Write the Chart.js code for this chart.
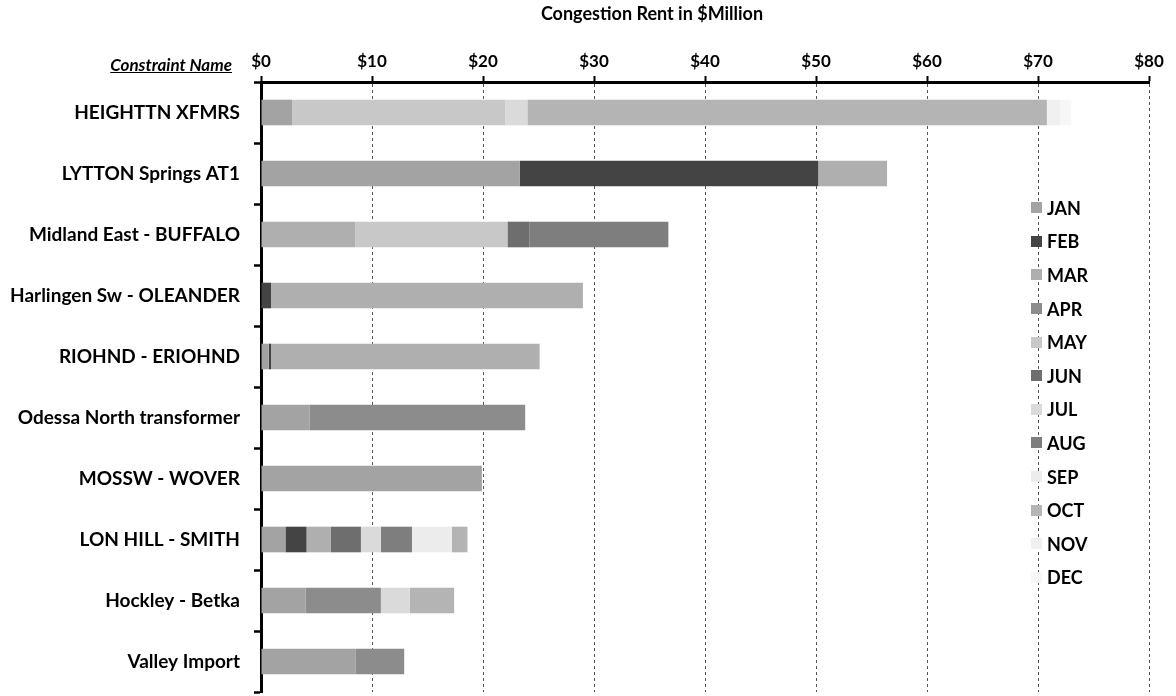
<!DOCTYPE html>
<html>
<head>
<meta charset="utf-8">
<script src="https://cdn.jsdelivr.net/npm/chart.js@4"></script>
<style>
  html, body { margin:0; padding:0; background:#fff; }
  #wrap { position:relative; width:1176px; height:696px; overflow:hidden; }
  #xtitle { position:absolute; left:452px; width:400px; top:2px; text-align:center; font-family:Lato, sans-serif; font-weight:bold; font-size:18px; color:#000; }
  #cname { position:absolute; right:944px; top:54px; font-family:Lato, sans-serif; font-weight:bold; font-style:italic; font-size:17px; text-decoration:underline; color:#000; white-space:nowrap; }
  #legend { position:absolute; left:1031px; top:191px; font-family:Lato, sans-serif; font-weight:bold; font-size:18px; color:#000; }
  .li { height:33.6px; display:flex; align-items:center; }
  .sw { width:11px; height:11px; margin-right:5px; }
</style>
</head>
<body>
<div id="wrap">
  <canvas id="c" width="1176" height="696"></canvas>
  <div id="xtitle">Congestion Rent in $Million</div>
  <div id="cname">Constraint Name</div>
  <div id="legend"></div>
</div>
<script>
const categories = ["HEIGHTTN XFMRS","LYTTON Springs AT1","Midland East - BUFFALO","Harlingen Sw - OLEANDER","RIOHND - ERIOHND","Odessa North transformer","MOSSW - WOVER","LON HILL - SMITH","Hockley - Betka","Valley Import"];
const months = ["JAN","FEB","MAR","APR","MAY","JUN","JUL","AUG","SEP","OCT","NOV","DEC"];
const jan = [2.8, 23.3, 0, 0, 0.7, 4.4, 19.9, 2.2, 4.0, 8.5];
const feb = [0, 26.9, 0, 0.9, 0.2, 0, 0, 1.9, 0, 0];
const mar = [0, 6.2, 8.5, 28.1, 24.2, 0, 0, 2.2, 0, 0];
const apr = [0, 0, 0, 0, 0, 19.4, 0, 0, 6.8, 4.4];
const may = [19.2, 0, 13.7, 0, 0, 0, 0, 0, 0, 0];
const jun = [0, 0, 2.0, 0, 0, 0, 0, 2.7, 0, 0];
const jul = [2.0, 0, 0, 0, 0, 0, 0, 1.8, 2.6, 0];
const aug = [0, 0, 12.5, 0, 0, 0, 0, 2.8, 0, 0];
const sep = [0, 0, 0, 0, 0, 0, 0, 3.6, 0, 0];
const oct = [46.8, 0, 0, 0, 0, 0, 0, 1.4, 4.0, 0];
const nov = [1.2, 0, 0, 0, 0, 0, 0, 0, 0, 0];
const dec = [1.0, 0, 0, 0, 0, 0, 0, 0, 0, 0];
const xTicks = [0,10,20,30,40,50,60,70,80];

const series = [jan,feb,mar,apr,may,jun,jul,aug,sep,oct,nov,dec];
const colors = ["#a3a3a3","#444444","#afafaf","#8c8c8c","#c8c8c8","#6e6e6e","#dadada","#7e7e7e","#ececec","#b4b4b4","#f0f0f0","#f7f7f7"];

Chart.defaults.font.family = "Lato, sans-serif";
Chart.defaults.color = "#000";

new Chart(document.getElementById('c'), {
  type: 'bar',
  data: {
    labels: categories,
    datasets: months.map((m,i) => ({ label:m, data:series[i], backgroundColor:colors[i], borderWidth:0, categoryPercentage:1, barPercentage:0.42 }))
  },
  options: {
    indexAxis: 'y',
    responsive: false,
    animation: false,
    layout: { padding: { top:0, right:27, bottom:4, left:0 } },
    plugins: { legend:{display:false}, tooltip:{enabled:false} },
    scales: {
      x: {
        position:'top', stacked:true, min:0, max:80,
        afterBuildTicks: s => { s.ticks = xTicks.map(v => ({value:v})); },
        ticks: { callback: v => '$' + v, color:'#000', font:{size:17, weight:'bold'}, padding:4, maxRotation:0 },
        grid: { color:'#555', lineWidth:1, tickLength:6, tickColor:'#000', tickWidth:2 },
        border: { display:true, color:'#000', width:3, dash:[3,3] },
        afterFit: s => { s.height = 82; }
      },
      y: {
        stacked:true,
        grid: { drawOnChartArea:false, offset:true, tickLength:7, tickColor:'#000', tickWidth:2.5 },
        border: { display:true, color:'#000', width:3 },
        ticks: { color:'#000', font:{size:19, weight:'bold'}, padding:14 },
        afterFit: s => { s.width = 261; s.paddingTop = 0; s.paddingBottom = 0; }
      }
    }
  }
});

const lg = document.getElementById('legend');
months.forEach((m,i) => {
  const d = document.createElement('div'); d.className = 'li';
  const sw = document.createElement('span'); sw.className = 'sw'; sw.style.background = colors[i];
  const t = document.createElement('span'); t.textContent = m;
  d.appendChild(sw); d.appendChild(t); lg.appendChild(d);
});
</script>
</body>
</html>
